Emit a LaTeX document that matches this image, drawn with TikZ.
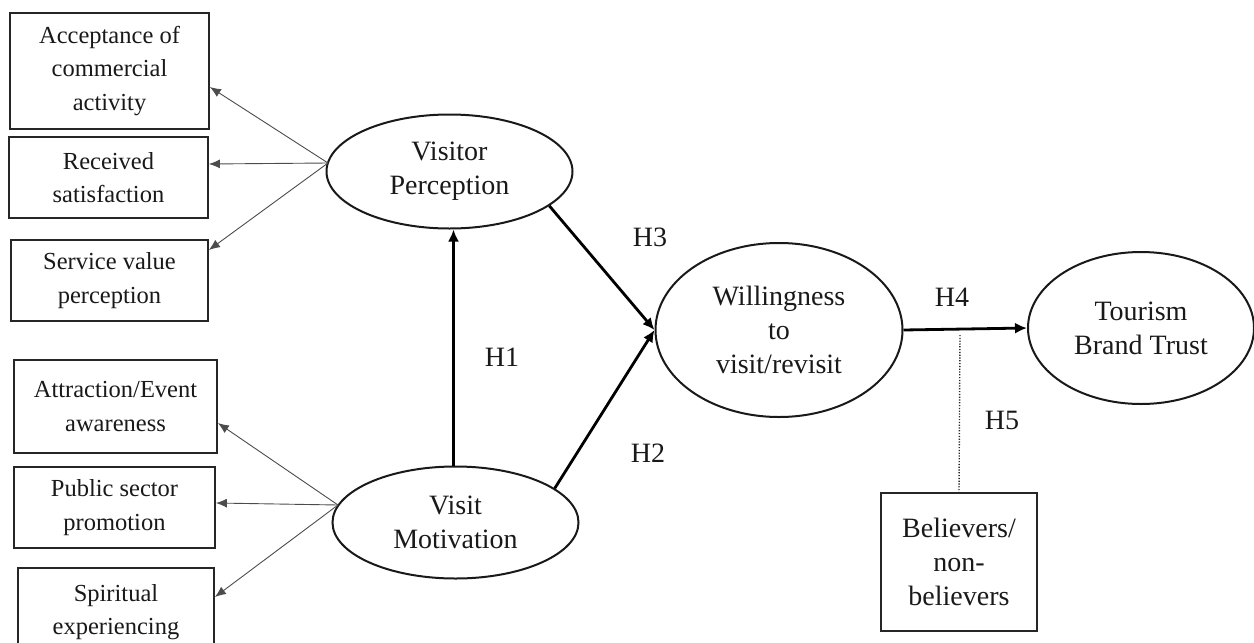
\documentclass[tikz,border=0pt]{standalone}
\usepackage{fontspec}
\setmainfont{Liberation Serif}
\usetikzlibrary{arrows.meta,shapes.geometric}
\begin{document}
\begin{tikzpicture}[x=1pt,y=-1pt,
  txt/.style={font=\fontsize{24.5}{33.5}\selectfont, align=center, text=black!90},
  box/.style={txt, draw=black!85, line width=1.8pt, rectangle, inner sep=0pt},
  bigbox/.style={box, font=\fontsize{28}{34}\selectfont},
  ell/.style={txt, draw=black!90, line width=2pt, ellipse, inner sep=0pt, font=\fontsize{28}{34}\selectfont},
  thin/.style={draw=black!70, line width=0.9pt, -{Latex[length=11pt,width=9pt]}},
  main/.style={draw=black, line width=2.8pt, -{Latex[length=12pt,width=11pt]}},
  lab/.style={font=\fontsize{28}{30}\selectfont, text=black!90, inner sep=0pt}]
\useasboundingbox (0,0) rectangle (1254,643);
\begin{scope}
\clip (0,0) rectangle (1254,643);
% indicator boxes
\node[box, minimum width=199pt, minimum height=116pt] (acc) at (109.5,71) {Acceptance of\\commercial\\activity};
\node[box, minimum width=199pt, minimum height=81pt] (rec) at (108.5,177.5) {Received\\satisfaction};
\node[box, minimum width=197pt, minimum height=81pt] (ser) at (109.5,280.5) {Service value\\perception};
\node[box, minimum width=203pt, minimum height=93pt] (att) at (115.5,406.5) {Attraction/Event\\awareness};
\node[box, minimum width=201pt, minimum height=81pt] (pub) at (114.5,507.5) {Public sector\\promotion};
\node[box, minimum width=196pt, minimum height=88pt] (spi) at (116,612) {Spiritual\\experiencing};
\node[bigbox, minimum width=156pt, minimum height=138pt] (bel) at (959,562) {Believers/\\non-\\believers};
% latent constructs
\node[ell, minimum width=246pt, minimum height=114pt] (vp) at (449.5,171.5) {Visitor\\Perception};
\node[ell, minimum width=246pt, minimum height=112pt] (vm) at (455.5,522.5) {Visit\\Motivation};
\node[ell, minimum width=247pt, minimum height=174pt] (wil) at (779,330) {Willingness\\to\\visit/revisit};
\node[ell, minimum width=226pt, minimum height=152pt] (tbt) at (1141,328) {Tourism\\Brand Trust};
% connector origins
\coordinate (vpL) at (328,163);
\coordinate (vmL) at (338,505);
\coordinate (h5top) at (960,335);
% indicator arrows
\draw[thin] (vpL) -- (acc.east |- 0,87);
\draw[thin] (vpL) -- (rec.east |- 0,164);
\draw[thin] (vpL) -- (ser.east |- 0,250);
\draw[thin] (vmL) -- (att.east |- 0,423);
\draw[thin] (vmL) -- (pub.east |- 0,503);
\draw[thin] (vmL) -- (spi.east |- 0,597);
% structural paths
\draw[main] (vm.north) ++(-2,0) coordinate (h1s) (h1s) -- (h1s |- vp.south);
\draw[main] (vp.-19) -- (wil.west);
\draw[main] (vm.19) -- (wil.west);
\draw[main] (wil.east) -- (tbt.west);
\draw[black!85, line width=1.4pt, dash pattern=on 1.2pt off 1.6pt] (h5top) -- (bel.north);
% hypothesis labels
\node[lab] (h1) at (502,357) {H1};
\node[lab] (h2) at (648,453) {H2};
\node[lab] (h3) at (650,237) {H3};
\node[lab] (h4) at (952,297) {H4};
\node[lab] (h5) at (1002,420) {H5};
\end{scope}
\end{tikzpicture}
\end{document}
